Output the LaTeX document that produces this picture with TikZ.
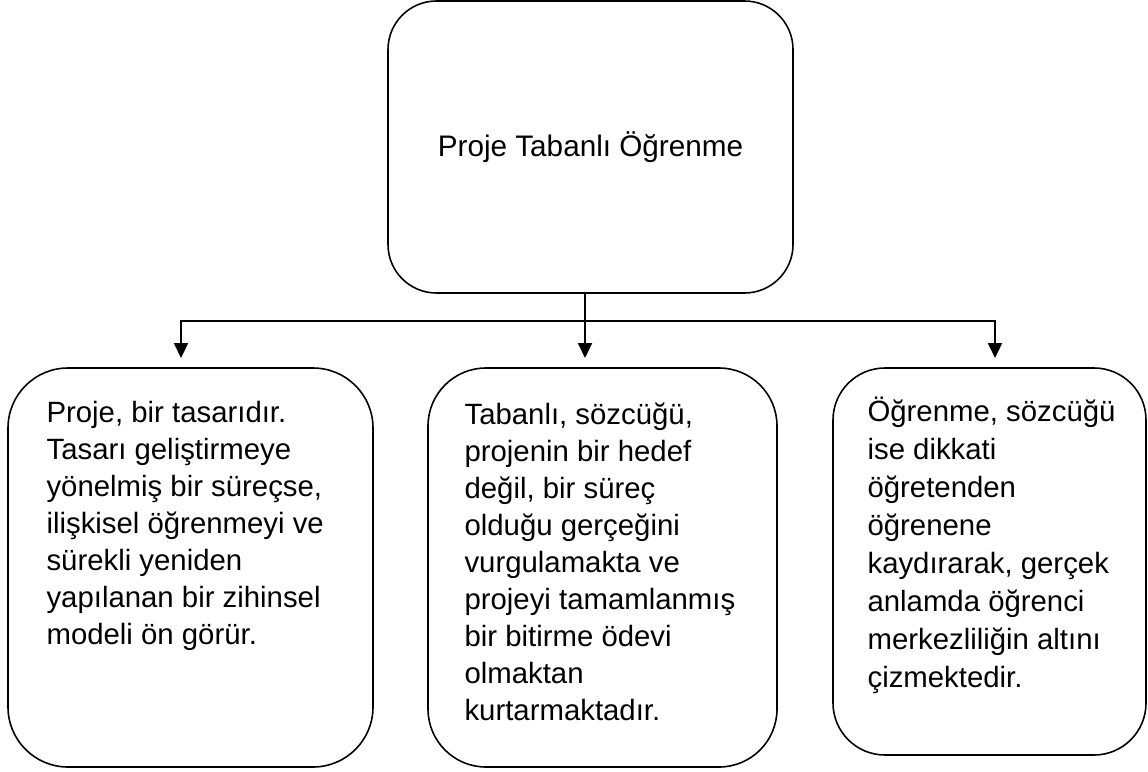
\documentclass[tikz,border=0pt]{standalone}
\usepackage{fontspec}
\setmainfont{Liberation Sans}
\usetikzlibrary{arrows.meta}

\begin{document}
\begin{tikzpicture}[
kutu/.style = {
  draw,
  line width=0.9pt,
  minimum height=7.98cm},
yazi/.style = {
  align=left,
  inner sep=0pt,
  anchor=base west,
  font=\fontsize{16.7}{21}\selectfont},
ok/.style = {draw=black, line width=1.2pt, -{Triangle[length=0.3cm,width=0.28cm]}},
ciftok/.style = {draw=black, line width=1.2pt, {Triangle[length=0.3cm,width=0.28cm]}-{Triangle[length=0.3cm,width=0.28cm]}},
]
\useasboundingbox (0,0) rectangle (22.96,-15.42);

\node[draw, line width=0.9pt, rounded corners=0.97cm, minimum width=8.1cm, minimum height=5.84cm,
  font=\fontsize{16.9}{21}\selectfont] (pto) at (11.81,-2.94) {Proje Tabanlı Öğrenme};

\node[kutu, rounded corners=1.2cm, minimum width=7.3cm] (proje) at (3.81,-11.35) {};
\node[kutu, rounded corners=1.16cm, minimum width=6.98cm] (tabanli) at (12.05,-11.35) {};
\node[kutu, rounded corners=1.04cm, minimum width=6.26cm, minimum height=7.74cm] (ogrenme) at (19.79,-11.23) {};

% son satirin tabani
\node[yazi] (projeyazi) at ([shift={(0.78,-5.54)}]proje.north west)
  {Proje, bir tasarıdır.\\Tasarı geliştirmeye\\yönelmiş bir süreçse,\\ilişkisel öğrenmeyi ve\\sürekli yeniden\\yapılanan bir zihinsel\\modeli ön görür.};
\node[yazi] (tabanliyazi) at ([shift={(0.74,-7.06)}]tabanli.north west)
  {Tabanlı, sözcüğü,\\projenin bir hedef\\değil, bir süreç\\olduğu gerçeğini\\vurgulamakta ve\\projeyi tamamlanmış\\bir bitirme ödevi\\olmaktan\\kurtarmaktadır.};
\node[yazi, font=\fontsize{16.7}{21.6}\selectfont] (ogrenmeyazi) at ([shift={(0.70,-6.40)}]ogrenme.north west)
  {Öğrenme, sözcüğü\\ise dikkati\\öğretenden\\öğrenene\\kaydırarak, gerçek\\anlamda öğrenci\\merkezliliğin altını\\çizmektedir.};

% uclar
\coordinate (kol) at (11.70,-6.42);
\coordinate (ucsol) at (3.62,-7.16);
\coordinate (ucorta) at (11.70,-7.16);
\coordinate (ucsag) at (19.90,-7.16);

\path[ok] (pto.south -| kol) -- (ucorta);
\path[ciftok] (ucsol) -- (ucsol |- kol) -- (ucsag |- kol) -- (ucsag);

\end{tikzpicture}
\end{document}
